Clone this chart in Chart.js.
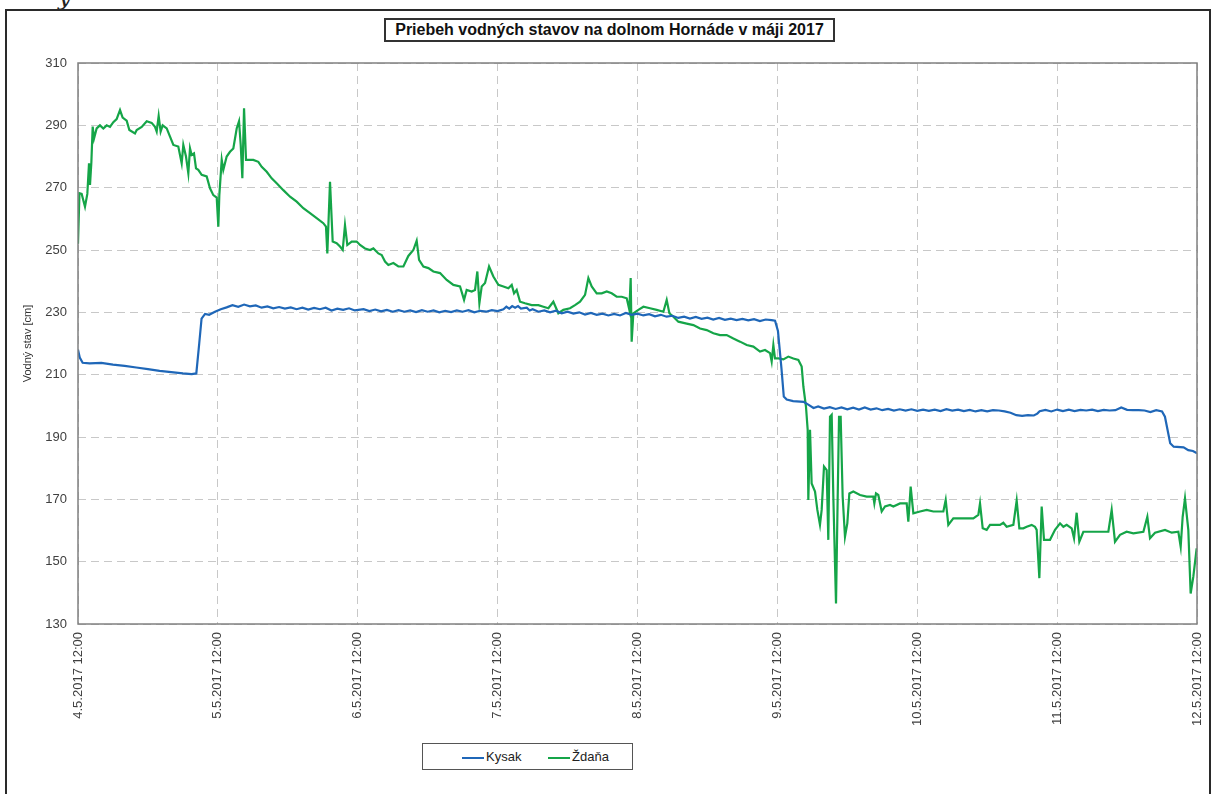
<!DOCTYPE html>
<html lang="sk">
<head>
<meta charset="UTF-8" />
<title>Priebeh vodných stavov</title>
<script src="https://cdn.jsdelivr.net/npm/chart.js"></script>
<style>
  body { margin: 0; background: #fff; font-family: "Liberation Sans", Arial, sans-serif; }
  #frame { position: absolute; left: 5px; top: 9px; width: 1206px; height: 820px; border: 2px solid #2a2a2a; box-sizing: border-box; }
  #corner { position: absolute; left: 58px; top: -17px; font: italic 24px "DejaVu Serif", serif; color: #222; }
  #wrap { position: absolute; left: 0; top: 0; width: 1212px; height: 794px; }
  #title {
    position: absolute; left: 384px; top: 18px; width: 451px; height: 24px;
    border: 2px solid #333; box-sizing: border-box;
    font: bold 16px "Liberation Sans", Arial, sans-serif; color: #111;
    text-align: center; line-height: 20px; background: #fff;
  }
  #legend {
    position: absolute; left: 422px; top: 743px; width: 211px; height: 27px;
    border: 1px solid #555; box-sizing: border-box; background: #fff;
    font: 13px "Liberation Sans Narrow", "Liberation Sans", Arial, sans-serif; color: #222;
  }
  .item { position: absolute; top: 5px; line-height: 16px; }
  .swatch { display: inline-block; width: 22px; height: 2px; vertical-align: middle; margin-right: 2px; }
</style>
</head>
<body>
<div id="corner">y</div>
<div id="frame"></div>
<div id="wrap"><canvas id="chart"></canvas></div>
<div id="title">Priebeh vodných stavov na dolnom Hornáde v máji 2017</div>
<div id="legend">
  <span class="item" style="left:39px"><span class="swatch" style="background:#1f67b8"></span>Kysak</span>
  <span class="item" style="left:125px"><span class="swatch" style="background:#15a548"></span>Ždaňa</span>
</div>
<script>
// hodiny od 4.5.2017 12:00
var dayLabels = ['4.5.2017 12:00', '5.5.2017 12:00', '6.5.2017 12:00', '7.5.2017 12:00', '8.5.2017 12:00',
  '9.5.2017 12:00', '10.5.2017 12:00', '11.5.2017 12:00', '12.5.2017 12:00'];

var kysakHours = [0, 0.3, 0.8, 2, 4, 6, 8, 10, 12, 14, 16, 18, 19.5, 20.3, 20.8, 21.2, 21.8, 22.5, 23.5, 24.5,
  25.5, 26.5, 27.5, 28.5, 29.5, 30.5, 31.5, 32.5, 33.5, 34.5, 35.5, 36.5, 37.5, 38.5, 39.5, 40.5, 41.5, 42.5,
  43.5, 44.5, 45.5, 46.5, 47.5, 49, 50, 51, 52, 53, 54, 55, 56, 57, 58, 59, 60, 61, 62, 63, 64,
  65, 66, 67, 68, 69, 70, 71, 72, 73, 73.5, 74, 74.5, 75, 75.5, 76, 77, 77.5, 78, 79, 80, 81, 82, 83, 84, 85, 86,
  87, 88, 89, 90, 91, 92, 93, 94, 95, 96, 97, 98, 99, 100, 101, 102, 103, 104, 105, 106, 107, 108, 109, 110, 111,
  112, 113, 114, 115, 116, 117, 118, 119, 119.6, 120.1, 120.7, 121.1, 121.6, 122.7, 124.5, 125.3, 126.2, 127, 128,
  129, 130, 131, 132, 133, 134, 135, 136, 137, 138, 139, 140, 141, 142, 143, 144, 145, 146, 147, 148, 149, 150,
  151, 152, 153, 154, 155, 156, 157, 158, 159, 160, 161, 162, 163, 164, 164.6, 165, 166, 167, 168, 169, 170, 171,
  172, 173, 174, 175, 176, 177, 178, 179, 180, 181, 182, 183, 184, 185, 186, 186.5, 187.4, 188, 189.7, 190.5,
  191.3, 192];
var kysakLevels = [218, 215.5, 213.8, 213.6, 213.8, 213.2, 212.8, 212.3, 211.8, 211.2, 210.8, 210.4, 210.2,
  210.4, 220, 228, 229.5, 229.2, 230.2, 231, 231.6, 232.3, 231.8, 232.5, 231.9, 232.2, 231.5, 231.9, 231.3, 231.7,
  231.2, 231.6, 231, 231.5, 230.9, 231.4, 231, 231.5, 230.6, 231.2, 230.8, 231.3, 230.6, 231, 230.4, 230.9,
  230.3, 230.8, 230.2, 230.7, 230.2, 230.6, 230.1, 230.7, 230.2, 230.6, 230, 230.5, 230.1, 230.6, 230.2, 230.7,
  230, 230.5, 230.2, 230.7, 230.4, 231, 231.8, 231.2, 232, 231.5, 232, 231.2, 231.5, 230.6, 231, 230.2, 230.6,
  230, 230.5, 229.7, 230.2, 229.6, 230, 229.3, 229.8, 229.2, 229.6, 229, 229.5, 229, 229.8, 229.2, 229.6, 229,
  229.4, 228.7, 229.2, 228.6, 228.9, 228.2, 228.6, 228, 228.5, 227.9, 228.3, 227.7, 228.2, 227.6, 228, 227.5,
  227.9, 227.4, 227.8, 227.2, 227.7, 227.5, 227.3, 224, 212, 203, 202, 201.5, 201.3, 200.4, 199.3, 199.8, 199.1,
  199.6, 199, 199.5, 198.9, 199.4, 198.8, 199.5, 198.8, 199.2, 198.6, 199, 198.5, 198.9, 198.5, 198.9, 198.4,
  198.8, 198.4, 198.8, 198.3, 198.9, 198.5, 198.8, 198.3, 198.7, 198.2, 198.6, 198.2, 198.6, 198.5, 198.2, 197.8,
  197, 196.8, 197, 196.9, 197.5, 198.3, 198.7, 198.2, 198.8, 198.3, 198.8, 198.3, 198.7, 198.5, 198.8, 198.3,
  198.7, 198.5, 198.6, 199.5, 198.7, 198.6, 198.6, 198.5, 198, 198.6, 198.2, 196.5, 188, 186.9, 186.7, 185.8,
  185.5, 184.8];

var zdanaHours = [0, 0.25, 0.63, 1.2, 1.6, 1.89, 2.06, 2.29, 2.52, 2.75, 3.2, 3.77, 4.35, 4.92, 5.49, 6.06, 6.63,
  7.21, 7.66, 8.35, 8.81, 9.78, 10.07, 10.93, 11.79, 12.64, 13.21, 13.5, 13.84, 14.18, 14.53, 15.22, 15.79, 16.36,
  17.21, 17.79, 18.07, 18.53, 18.93, 19.22, 19.5, 19.9, 20.25, 20.64, 21.22, 22.08, 22.65, 23.22, 23.8, 24.08,
  24.25, 24.66, 24.93, 25.51, 26.08, 26.65, 27.23, 27.63, 27.92, 28.2, 28.49, 28.83, 30.08, 30.94, 31.52, 32.38,
  33.23, 34.09, 35.23, 36.38, 37.52, 38.66, 39.81, 40.95, 42.09, 42.55, 42.78, 43.24, 43.7, 44.38, 44.96, 45.42,
  45.81, 46.21, 46.96, 47.82, 48.39, 49.25, 50.11, 50.68, 51.54, 52.11, 52.68, 53.25, 54.11, 54.97, 55.83, 56.68,
  57.54, 58.11, 58.52, 59.26, 60.12, 60.97, 62.12, 63.26, 64.41, 65.55, 66.24, 66.69, 67.55, 68.12, 68.52, 68.87,
  69.27, 69.84, 70.53, 71.27, 72.13, 72.99, 73.84, 74.42, 74.82, 75.27, 75.85, 76.7, 77.85, 78.99, 79.85, 80.71,
  81.56, 82.42, 83.28, 84.42, 85.28, 86.14, 87, 87.57, 88.14, 89, 89.86, 90.72, 91.57, 92.43, 93.29, 94.15, 94.6,
  94.83, 95, 95.29, 96.15, 97.01, 98.15, 99.29, 100.44, 101.01, 101.47, 102.15, 103.01, 104.44, 105.59, 106.73,
  107.87, 109.02, 110.16, 111.3, 112.45, 113.59, 114.74, 115.88, 117.02, 117.88, 118.74, 119.02, 119.31, 119.59,
  120.17, 121.02, 121.88, 122.74, 123.6, 124.17, 124.46, 124.91, 125.2, 125.31, 125.6, 125.88, 126.46, 126.86,
  127.31, 127.6, 128, 128.46, 128.74, 129.03, 129.32, 129.6, 130.06, 130.35, 130.58, 130.86, 131.2, 131.6, 132,
  132.35, 133.03, 134.18, 135.32, 136.46, 136.64, 136.92, 137.32, 137.9, 138.47, 139.33, 139.9, 141.04, 142.19,
  142.47, 142.87, 143.33, 144.47, 145.62, 146.76, 148.48, 148.88, 149.33, 150.19, 151.91, 153.62, 154.48, 154.77,
  155.23, 155.91, 156.48, 158.2, 158.77, 159.34, 160.49, 161.06, 161.52, 162.2, 162.78, 163.63, 164.2, 164.49,
  164.95, 165.35, 165.75, 166.78, 167.64, 168.5, 169.07, 169.64, 170.5, 170.9, 171.35, 171.81, 172.5, 173.64,
  175.36, 176.79, 177.36, 177.93, 178.79, 179.93, 181.08, 182.8, 183.48, 183.94, 184.8, 186.51, 187.66, 188.8,
  189.2, 189.54, 189.94, 190.51, 190.91, 191.37, 191.94];
var zdanaLevels = [252, 268.2, 268, 263.9, 268, 277.8, 270.9, 278, 289.6, 285.8, 289, 290, 289, 290, 289.5, 291,
  292, 294.9, 292.5, 291.5, 288.5, 287.4, 288.5, 289.5, 291.3, 290.8, 289.5, 288, 293, 288, 290, 289, 286.4, 283.7,
  283.2, 277.8, 283.7, 280, 274.6, 282.6, 280.5, 281, 276.2, 275.7, 274.1, 273.6, 269.8, 267.6, 266.8, 257.5,
  267.6, 278.9, 275.7, 280, 281.5, 282.6, 289, 291.3, 283.7, 273, 295.5, 278.9, 278.9, 278.3, 276.7, 275.1, 273,
  271.4, 269.2, 267.1, 265.5, 263.4, 261.8, 260.2, 258.6, 257.5, 248.9, 271.9, 252.7, 252.2, 251.1, 250, 258,
  251.6, 252.7, 252.7, 251.6, 250.5, 250, 250.5, 248.9, 248.4, 246.3, 245.2, 245.8, 244.7, 244.7, 248.1, 250, 253,
  246.8, 244.7, 244.2, 243.1, 242.6, 240.4, 238.8, 238.3, 234, 237.2, 236.7, 237.2, 243.1, 232.9, 238.3, 239.4,
  244.7, 241.5, 238.8, 238.3, 237.7, 238.8, 236.1, 237.2, 233.4, 232.9, 232.3, 232.3, 231.8, 231.3, 233.4, 229.7,
  230.8, 231.3, 232.3, 233.4, 235.6, 241, 238.3, 236.1, 236.1, 236.7, 236.1, 235, 235, 234.5, 230.8, 241, 220.6,
  229.7, 230.8, 231.8, 231.3, 230.8, 230.2, 234, 229.7, 228.6, 227, 226.4, 225.9, 224.8, 224.3, 223.3, 222.7,
  222.7, 221.6, 220.6, 219.5, 219, 217.4, 217.9, 216.9, 214.2, 219.5, 215.2, 215.2, 214.9, 215.8, 215.2, 214.7,
  212.6, 206.2, 199.7, 192.3, 169.8, 192.3, 175.1, 172.5, 166.6, 161.8, 166.6, 180.5, 179.4, 157, 196.5, 197.1,
  170.9, 136.6, 170.9, 196.5, 196.5, 170.9, 158, 162.3, 171.9, 172.5, 171.4, 170.9, 170.9, 168.7, 171.9, 171.4,
  166.1, 167.7, 168.2, 167.7, 168.7, 168.7, 162.8, 174.1, 165.5, 166.1, 166.6, 166.1, 166.1, 169.8, 161.8, 163.9,
  163.9, 163.9, 165, 168.7, 160.7, 160.2, 161.8, 161.8, 162.5, 161.2, 161.8, 169.6, 160.7, 160.7, 161.2, 161.8,
  161.2, 160.2, 144.7, 167.7, 157, 157, 160.2, 162.3, 161.2, 161.8, 160.7, 157.5, 165.7, 156.4, 159.6, 159.6,
  159.6, 159.6, 166.6, 156.4, 158.6, 159.6, 159.1, 159.6, 164.4, 157.5, 159.3, 160.2, 159.3, 159.6, 154.8, 164.4,
  170.3, 160.2, 139.8, 145.2, 154.3];

function toPoints(xs, ys) {
  return xs.map(function (x, i) { return { x: x, y: ys[i] }; });
}

// ramik okolo plochy grafu
var plotBorder = {
  id: 'plotBorder',
  afterDraw: function (chart) {
    var ctx = chart.ctx, a = chart.chartArea;
    ctx.save();
    ctx.strokeStyle = '#808080';
    ctx.lineWidth = 1.5;
    ctx.strokeRect(a.left, a.top, a.right - a.left, a.bottom - a.top);
    ctx.restore();
  }
};

var tickFont = { family: '"Liberation Sans", Arial, sans-serif', size: 13 };

new Chart(document.getElementById('chart'), {
  type: 'line',
  data: {
    datasets: [
      { label: 'Kysak', data: toPoints(kysakHours, kysakLevels), borderColor: '#1f67b8', borderWidth: 2.2, pointRadius: 0, tension: 0 },
      { label: 'Ždaňa', data: toPoints(zdanaHours, zdanaLevels), borderColor: '#15a548', borderWidth: 2.2, pointRadius: 0, tension: 0 }
    ]
  },
  options: {
    responsive: true,
    maintainAspectRatio: false,
    animation: false,
    layout: { padding: { left: 0, top: 63, right: 15, bottom: 0 } },
    plugins: { legend: { display: false }, title: { display: false }, tooltip: { enabled: false } },
    scales: {
      x: {
        type: 'linear', min: 0, max: 192,
        afterFit: function (s) { s.height = 170; s.paddingLeft = 0; s.paddingRight = 0; },
        grid: { color: '#c8c8c8', lineWidth: 1, drawTicks: false },
        border: { display: false, dash: [8, 5] },
        ticks: {
          stepSize: 24, autoSkip: false, minRotation: 90, maxRotation: 90, padding: 8,
          color: '#404040', font: tickFont,
          callback: function (v) { return dayLabels[Math.round(v / 24)]; }
        }
      },
      y: {
        min: 130, max: 310,
        afterFit: function (s) { s.width = 78; s.paddingTop = 0; s.paddingBottom = 0; },
        grid: { color: '#c8c8c8', lineWidth: 1, drawTicks: false },
        border: { display: false, dash: [8, 5] },
        ticks: { stepSize: 20, padding: 11, color: '#404040', font: tickFont },
        title: {
          display: true, text: 'Vodný stav [cm]', color: '#333',
          font: { family: '"Liberation Sans", Arial, sans-serif', size: 11 },
          padding: { top: 21, bottom: 0 }
        }
      }
    }
  },
  plugins: [plotBorder]
});
</script>
</body>
</html>
